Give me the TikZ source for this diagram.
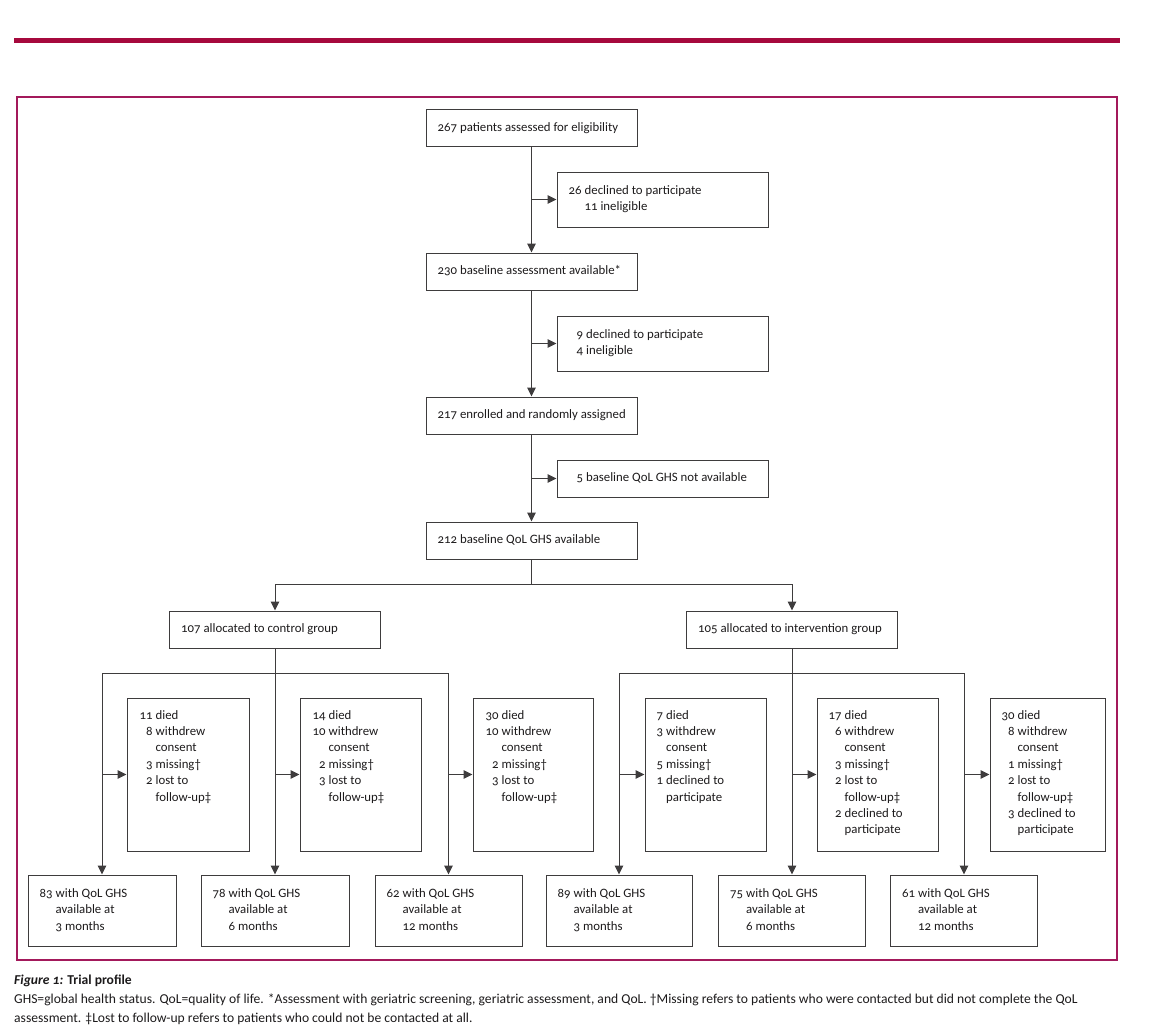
\documentclass[tikz,border=0pt]{standalone}
\usepackage{fontspec}
\setmainfont{Carlito}[Numbers=OldStyle]
\usetikzlibrary{arrows.meta,calc}
\definecolor{lancetred}{HTML}{A6093D}
\definecolor{framecol}{HTML}{A3195B}
\definecolor{ink}{HTML}{1C1A1B}
\newcommand\tb[1]{\begin{tabular}{@{}r@{\hspace{3pt}}l@{}}#1\end{tabular}}
\begin{document}
\begin{tikzpicture}[x=1pt,y=-1pt,
  font=\fontsize{12.8}{16.4}\selectfont, text=ink,
  boxs/.style={draw=ink!85, line width=1pt, inner sep=0pt},
  mainbox/.style={boxs, minimum width=211pt, minimum height=37pt},
  sidebox/.style={boxs, minimum width=#1, minimum height=153pt},
  endbox/.style={boxs, minimum width=#1, minimum height=71pt},
  txt/.style={inner sep=0pt, anchor=west},
  toptxt/.style={inner sep=0pt, anchor=north west},
  line/.style={draw=ink!85, line width=1pt},
  arr/.style={line, -{Triangle[length=9pt,width=8.5pt]}},
  captxt/.style={txt, font=\fontsize{13.6}{19}\selectfont}]
\useasboundingbox (0,0) rectangle (1152,1034);
\fill[lancetred] (14,38) rectangle (1120,42.5);
\draw[framecol, line width=1.2pt] (17,97) rectangle (1117,960);

% main column
\node[mainbox] (b1) at (531.5,128) {};
\node[mainbox] (b2) at (531.5,271.5) {};
\node[mainbox] (b3) at (531.5,415.5) {};
\node[mainbox] (b4) at (531.5,540.5) {};
\node[txt] (t1) at ($(b1.west)+(12,0)$) {\strut 267 patients assessed for eligibility};
\node[txt] (t2) at ($(b2.west)+(12,0)$) {\strut 230 baseline assessment available*};
\node[txt] (t3) at ($(b3.west)+(12,0)$) {\strut 217 enrolled and randomly assigned};
\node[txt] (t4) at ($(b4.west)+(12,0)$) {\strut 212 baseline QoL GHS available};

\node[boxs, minimum width=211pt, minimum height=55pt] (s1) at (662.5,199.5) {};
\node[boxs, minimum width=211pt, minimum height=55pt] (s2) at (662.5,343.5) {};
\node[boxs, minimum width=211pt, minimum height=37pt] (s3) at (662.5,478.5) {};
\node[txt] (ts1) at ($(s1.west)+(12,0)$) {\tb{26 & declined to participate\\ & 11 ineligible}};
\node[txt] (ts2) at ($(s2.west)+(20,0)$) {\tb{9 & declined to participate\\ 4 & ineligible}};
\node[txt] (ts3) at ($(s3.west)+(20,0)$) {\strut 5 baseline QoL GHS not available};

\draw[arr] (b1) -- (b2);
\draw[arr] (b2) -- (b3);
\draw[arr] (b3) -- (b4);
\draw[arr] (b1.south |- s1.west) -- (s1.west);
\draw[arr] (b2.south |- s2.west) -- (s2.west);
\draw[arr] (b3.south |- s3.west) -- (s3.west);

% allocation
\node[mainbox] (ctrl) at (275,629.5) {};
\node[mainbox] (intv) at (792,629.5) {};
\node[txt] (tc) at ($(ctrl.west)+(12,0)$) {\strut 107 allocated to control group};
\node[txt] (ti) at ($(intv.west)+(12,0)$) {\strut 105 allocated to intervention group};
\coordinate (j0) at ($(b4.south)+(0,25)$);
\draw[line] (b4.south) -- (j0);
\draw[arr] (j0) -| (ctrl.north);
\draw[arr] (j0) -| (intv.north);

% control group
\node[endbox=148pt] (r1) at (102,910.5) {};
\node[endbox=148pt] (r2) at (275,910.5) {};
\node[endbox=147pt] (r3) at (448.5,910.5) {};
\node[sidebox=122pt] (a1) at (188,774.5) {};
\node[sidebox=121pt] (a2) at (360.5,774.5) {};
\node[sidebox=120pt] (a3) at (533,774.5) {};
\node[txt] (tr1) at ($(r1.west)+(12,0)$) {\tb{83 & with QoL GHS\\ & available at\\ & 3 months}};
\node[txt] (tr2) at ($(r2.west)+(12,0)$) {\tb{78 & with QoL GHS\\ & available at\\ & 6 months}};
\node[txt] (tr3) at ($(r3.west)+(12,0)$) {\tb{62 & with QoL GHS\\ & available at\\ & 12 months}};
\node[toptxt] (ta1) at ($(a1.north west)+(13,10)$) {\tb{11 & died\\ 8 & withdrew\\ & consent\\ 3 & missing†\\ 2 & lost to\\ & follow-up‡}};
\node[toptxt] (ta2) at ($(a2.north west)+(13,10)$) {\tb{14 & died\\ 10 & withdrew\\ & consent\\ 2 & missing†\\ 3 & lost to\\ & follow-up‡}};
\node[toptxt] (ta3) at ($(a3.north west)+(13,10)$) {\tb{30 & died\\ 10 & withdrew\\ & consent\\ 2 & missing†\\ 3 & lost to\\ & follow-up‡}};
\coordinate (cj) at ($(ctrl.south)+(0,25)$);
\draw[line] (ctrl.south) -- (cj);
\draw[arr] (cj) -| (r1.north);
\draw[arr] (cj) -| (r3.north);
\draw[arr] (cj) -- (r2.north);
\draw[arr] (r1.north |- a1.west) -- (a1.west);
\draw[arr] (r2.north |- a2.west) -- (a2.west);
\draw[arr] (r3.north |- a3.west) -- (a3.west);

% intervention group
\node[endbox=146pt] (q1) at (619,910.5) {};
\node[endbox=147pt] (q2) at (792,910.5) {};
\node[endbox=147pt] (q3) at (964,910.5) {};
\node[sidebox=121pt] (c1) at (705.5,774.5) {};
\node[sidebox=121pt] (c2) at (877.5,774.5) {};
\node[sidebox=115pt] (c3) at (1047.5,774.5) {};
\node[txt] (tq1) at ($(q1.west)+(12,0)$) {\tb{89 & with QoL GHS\\ & available at\\ & 3 months}};
\node[txt] (tq2) at ($(q2.west)+(12,0)$) {\tb{75 & with QoL GHS\\ & available at\\ & 6 months}};
\node[txt] (tq3) at ($(q3.west)+(12,0)$) {\tb{61 & with QoL GHS\\ & available at\\ & 12 months}};
\node[toptxt] (tc1) at ($(c1.north west)+(12,10)$) {\tb{7 & died\\ 3 & withdrew\\ & consent\\ 5 & missing†\\ 1 & declined to\\ & participate}};
\node[toptxt] (tc2) at ($(c2.north west)+(12,10)$) {\tb{17 & died\\ 6 & withdrew\\ & consent\\ 3 & missing†\\ 2 & lost to\\ & follow-up‡\\ 2 & declined to\\ & participate}};
\node[toptxt] (tc3) at ($(c3.north west)+(12,10)$) {\tb{30 & died\\ 8 & withdrew\\ & consent\\ 1 & missing†\\ 2 & lost to\\ & follow-up‡\\ 3 & declined to\\ & participate}};
\coordinate (ij) at ($(intv.south)+(0,25)$);
\draw[line] (intv.south) -- (ij);
\draw[arr] (ij) -| (q1.north);
\draw[arr] (ij) -| (q3.north);
\draw[arr] (ij) -- (q2.north);
\draw[arr] (q1.north |- c1.west) -- (c1.west);
\draw[arr] (q2.north |- c2.west) -- (c2.west);
\draw[arr] (q3.north |- c3.west) -- (c3.west);

% caption
\node[captxt] (cap1) at (14,981) {\strut\textbf{\textit{Figure 1:} Trial profile}};
\node[captxt] (cap2) at (14,1000) {\strut GHS=global health status. QoL=quality of life. *Assessment with geriatric screening, geriatric assessment, and QoL. †Missing refers to patients who were contacted but did not complete the QoL};
\node[captxt] (cap3) at (14,1019) {\strut assessment. ‡Lost to follow-up refers to patients who could not be contacted at all.};
\end{tikzpicture}
\end{document}
